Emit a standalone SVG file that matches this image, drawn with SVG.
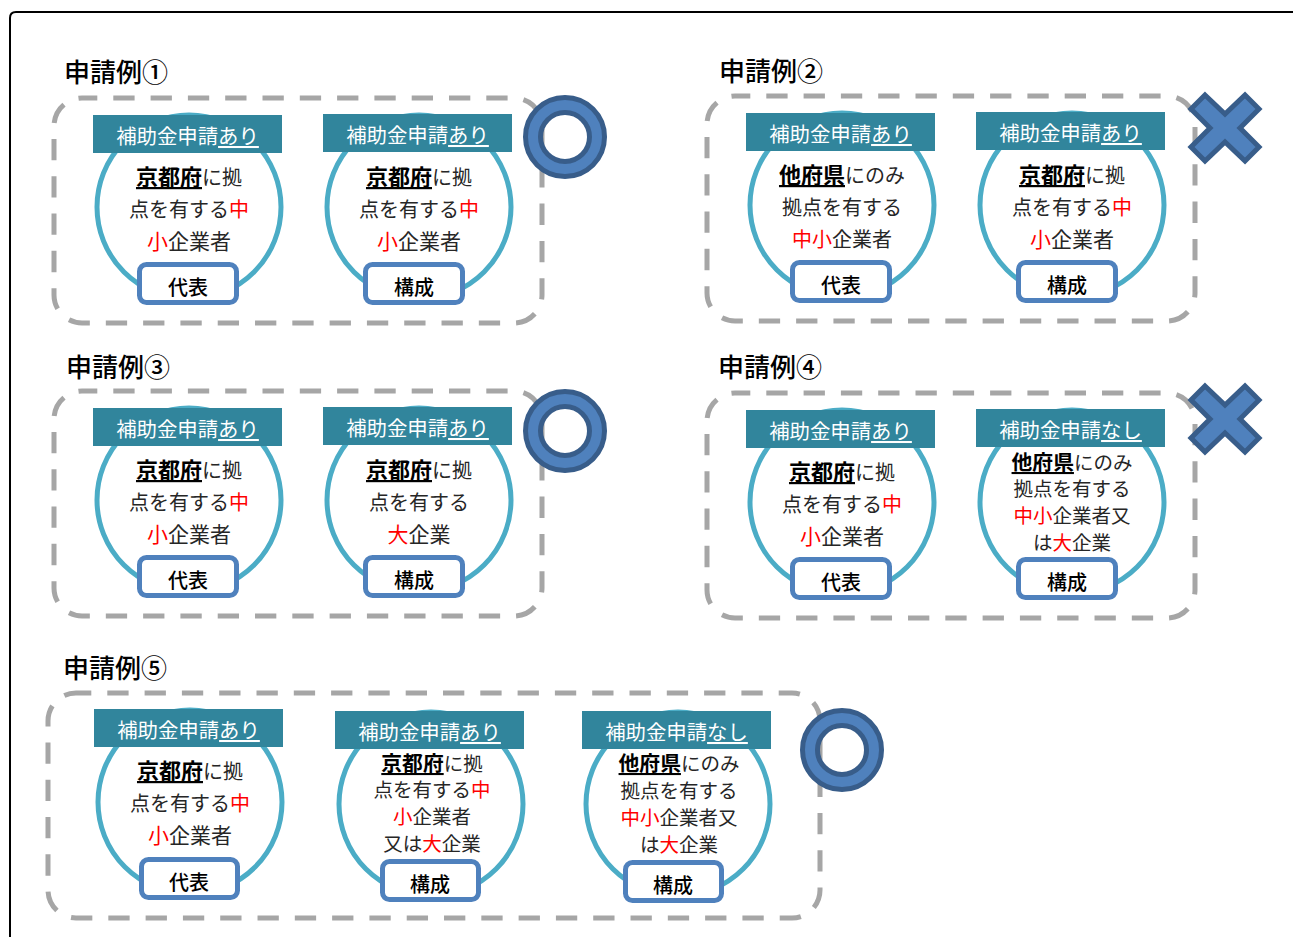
<svg xmlns="http://www.w3.org/2000/svg" width="1293" height="937" viewBox="0 0 1293 937">
<style>
text{font-family:"Noto Sans CJK JP","Noto Sans",sans-serif;text-anchor:middle}
.frame{fill:none;stroke:#000;stroke-width:2}
.dash{fill:none;stroke:#a6a6a6;stroke-width:5;stroke-dasharray:21.3 16;stroke-dashoffset:6}
.title{font-size:26px;fill:#000;text-anchor:start;font-weight:500}
.ring{fill:#fff;stroke:#4bacc6;stroke-width:5}
.hd{fill:#31859c}
.hdt{font-size:20.4px;fill:#fff}
.u{text-decoration:underline}
.b{font-size:20px;fill:#262626}
.b3{font-size:21px;fill:#262626}
.b4{font-size:19.5px;fill:#262626}
.k{font-weight:700;fill:#000;text-decoration:underline}
.b .k{font-size:22px}
.b4 .k{font-size:20.8px}
.r{fill:#ff0000}
.badge{fill:#fff;stroke:#4f81bd;stroke-width:5}
.bt{font-size:20px;fill:#000;font-weight:500}
.mark{fill:#4f81bd;stroke:#385d8a;stroke-width:5;fill-rule:evenodd}
</style>
<path class="frame" d="M10 937V18Q10 12 16 12H1293"/>

<g id="connectors"></g>

<g id="example1">
<text class="title" x="64" y="82">申請例①</text>
<rect class="dash" x="54" y="98" width="488" height="225" rx="28"/>
<g id="c1a"><circle class="ring" cx="189" cy="207" r="92"/><rect class="hd" x="93" y="115" width="189" height="38"/>
<text class="hdt" x="187.500" y="144">補助金申請<tspan class="u">あり</tspan></text>
<text class="b" x="189" y="185"><tspan class="k">京都府</tspan>に拠</text>
<text class="b" x="189" y="217">点を有する<tspan class="r">中</tspan></text>
<text class="b3" x="189" y="249"><tspan class="r">小</tspan>企業者</text>
<rect class="badge" x="139.500" y="264.500" width="97" height="38" rx="7"/><text class="bt" x="188" y="295">代表</text></g>
<g id="c1b"><circle class="ring" cx="419" cy="207" r="92"/><rect class="hd" x="323" y="114" width="189" height="38"/>
<text class="hdt" x="417.500" y="143">補助金申請<tspan class="u">あり</tspan></text>
<text class="b" x="419" y="185"><tspan class="k">京都府</tspan>に拠</text>
<text class="b" x="419" y="217">点を有する<tspan class="r">中</tspan></text>
<text class="b3" x="419" y="249"><tspan class="r">小</tspan>企業者</text>
<rect class="badge" x="365.500" y="264.500" width="97" height="38" rx="7"/><text class="bt" x="414" y="295">構成</text></g>
<path id="m1" class="mark" d="M525.500 137a39.500 39.500 0 1 0 79 0a39.500 39.500 0 1 0 -79 0ZM540.500 137a24.500 24.500 0 1 1 49 0a24.500 24.500 0 1 1 -49 0Z"/>
</g>

<g id="example2">
<text class="title" x="719" y="81">申請例②</text>
<rect class="dash" x="707" y="96" width="488" height="225" rx="28"/>
<g id="c2a"><circle class="ring" cx="842" cy="205" r="92"/><rect class="hd" x="746" y="113" width="189" height="38"/>
<text class="hdt" x="840.500" y="142">補助金申請<tspan class="u">あり</tspan></text>
<text class="b" x="842" y="183"><tspan class="k">他府県</tspan>にのみ</text>
<text class="b" x="842" y="215">拠点を有する</text>
<text class="b" x="842" y="247"><tspan class="r">中小</tspan>企業者</text>
<rect class="badge" x="792.500" y="262.500" width="97" height="38" rx="7"/><text class="bt" x="841" y="293">代表</text></g>
<g id="c2b"><circle class="ring" cx="1072" cy="205" r="92"/><rect class="hd" x="976" y="112" width="189" height="38"/>
<text class="hdt" x="1070.500" y="141">補助金申請<tspan class="u">あり</tspan></text>
<text class="b" x="1072" y="183"><tspan class="k">京都府</tspan>に拠</text>
<text class="b" x="1072" y="215">点を有する<tspan class="r">中</tspan></text>
<text class="b3" x="1072" y="247"><tspan class="r">小</tspan>企業者</text>
<rect class="badge" x="1018.500" y="262.500" width="97" height="38" rx="7"/><text class="bt" x="1067" y="293">構成</text></g>
<polygon id="m2" class="mark" points="1205,95 1225,114 1245,95 1259,109 1240,128 1259,147 1245,161 1225,142 1205,161 1191,147 1210,128 1191,109"/>
</g>

<g id="example3">
<text class="title" x="66" y="377">申請例③</text>
<rect class="dash" x="54" y="391" width="488" height="225" rx="28"/>
<g id="c3a"><circle class="ring" cx="189" cy="500" r="92"/><rect class="hd" x="93" y="408" width="189" height="38"/>
<text class="hdt" x="187.500" y="437">補助金申請<tspan class="u">あり</tspan></text>
<text class="b" x="189" y="478"><tspan class="k">京都府</tspan>に拠</text>
<text class="b" x="189" y="510">点を有する<tspan class="r">中</tspan></text>
<text class="b3" x="189" y="542"><tspan class="r">小</tspan>企業者</text>
<rect class="badge" x="139.500" y="557.500" width="97" height="38" rx="7"/><text class="bt" x="188" y="588">代表</text></g>
<g id="c3b"><circle class="ring" cx="419" cy="500" r="92"/><rect class="hd" x="323" y="407" width="189" height="38"/>
<text class="hdt" x="417.500" y="436">補助金申請<tspan class="u">あり</tspan></text>
<text class="b" x="419" y="478"><tspan class="k">京都府</tspan>に拠</text>
<text class="b" x="419" y="510">点を有する</text>
<text class="b3" x="419" y="542"><tspan class="r">大</tspan>企業</text>
<rect class="badge" x="365.500" y="557.500" width="97" height="38" rx="7"/><text class="bt" x="414" y="588">構成</text></g>
<path id="m3" class="mark" d="M525.500 431a39.500 39.500 0 1 0 79 0a39.500 39.500 0 1 0 -79 0ZM540.500 431a24.500 24.500 0 1 1 49 0a24.500 24.500 0 1 1 -49 0Z"/>
</g>

<g id="example4">
<text class="title" x="718" y="377">申請例④</text>
<rect class="dash" x="707" y="393" width="488" height="225" rx="28"/>
<g id="c4a"><circle class="ring" cx="842" cy="502" r="92"/><rect class="hd" x="746" y="410" width="189" height="38"/>
<text class="hdt" x="840.500" y="439">補助金申請<tspan class="u">あり</tspan></text>
<text class="b" x="842" y="480"><tspan class="k">京都府</tspan>に拠</text>
<text class="b" x="842" y="512">点を有する<tspan class="r">中</tspan></text>
<text class="b3" x="842" y="544"><tspan class="r">小</tspan>企業者</text>
<rect class="badge" x="792.500" y="559.500" width="97" height="38" rx="7"/><text class="bt" x="841" y="590">代表</text></g>
<g id="c4b"><circle class="ring" cx="1072" cy="502" r="92"/><rect class="hd" x="976" y="409" width="189" height="38"/>
<text class="hdt" x="1070.500" y="438">補助金申請<tspan class="u">なし</tspan></text>
<text class="b4" x="1072" y="470"><tspan class="k">他府県</tspan>にのみ</text>
<text class="b4" x="1072" y="496">拠点を有する</text>
<text class="b4" x="1072" y="523"><tspan class="r">中小</tspan>企業者又</text>
<text class="b4" x="1072" y="550">は<tspan class="r">大</tspan>企業</text>
<rect class="badge" x="1018.500" y="559.500" width="97" height="38" rx="7"/><text class="bt" x="1067" y="590">構成</text></g>
<polygon id="m4" class="mark" points="1205,386 1225,405 1245,386 1259,400 1240,419 1259,438 1245,452 1225,433 1205,452 1191,438 1210,419 1191,400"/>
</g>

<g id="example5">
<text class="title" x="63" y="678">申請例⑤</text>
<rect class="dash" x="48" y="693" width="772" height="225" rx="28"/>
<g id="c5a"><circle class="ring" cx="190" cy="802" r="92"/><rect class="hd" x="94" y="709" width="189" height="38"/>
<text class="hdt" x="188.500" y="738">補助金申請<tspan class="u">あり</tspan></text>
<text class="b" x="190" y="779"><tspan class="k">京都府</tspan>に拠</text>
<text class="b" x="190" y="811">点を有する<tspan class="r">中</tspan></text>
<text class="b3" x="190" y="843"><tspan class="r">小</tspan>企業者</text>
<rect class="badge" x="141.500" y="859.500" width="96" height="38" rx="7"/><text class="bt" x="189" y="890">代表</text></g>
<g id="c5b"><circle class="ring" cx="431" cy="804" r="92"/><rect class="hd" x="335" y="711" width="189" height="38"/>
<text class="hdt" x="429.500" y="740">補助金申請<tspan class="u">あり</tspan></text>
<text class="b4" x="432" y="771"><tspan class="k">京都府</tspan>に拠</text>
<text class="b4" x="432" y="797">点を有する<tspan class="r">中</tspan></text>
<text class="b4" x="432" y="824"><tspan class="r">小</tspan>企業者</text>
<text class="b4" x="432" y="851">又は<tspan class="r">大</tspan>企業</text>
<rect class="badge" x="382.500" y="861.500" width="96" height="38" rx="7"/><text class="bt" x="430" y="892">構成</text></g>
<g id="c5c"><circle class="ring" cx="678" cy="804" r="92"/><rect class="hd" x="582" y="711" width="189" height="38"/>
<text class="hdt" x="676.500" y="740">補助金申請<tspan class="u">なし</tspan></text>
<text class="b4" x="679" y="771"><tspan class="k">他府県</tspan>にのみ</text>
<text class="b4" x="679" y="798">拠点を有する</text>
<text class="b4" x="679" y="825"><tspan class="r">中小</tspan>企業者又</text>
<text class="b4" x="679" y="852">は<tspan class="r">大</tspan>企業</text>
<rect class="badge" x="625.500" y="862.500" width="96" height="38" rx="7"/><text class="bt" x="673" y="893">構成</text></g>
<path id="m5" class="mark" d="M802.500 750a39.500 39.500 0 1 0 79 0a39.500 39.500 0 1 0 -79 0ZM817.500 750a24.500 24.500 0 1 1 49 0a24.500 24.500 0 1 1 -49 0Z"/>
</g>
</svg>
